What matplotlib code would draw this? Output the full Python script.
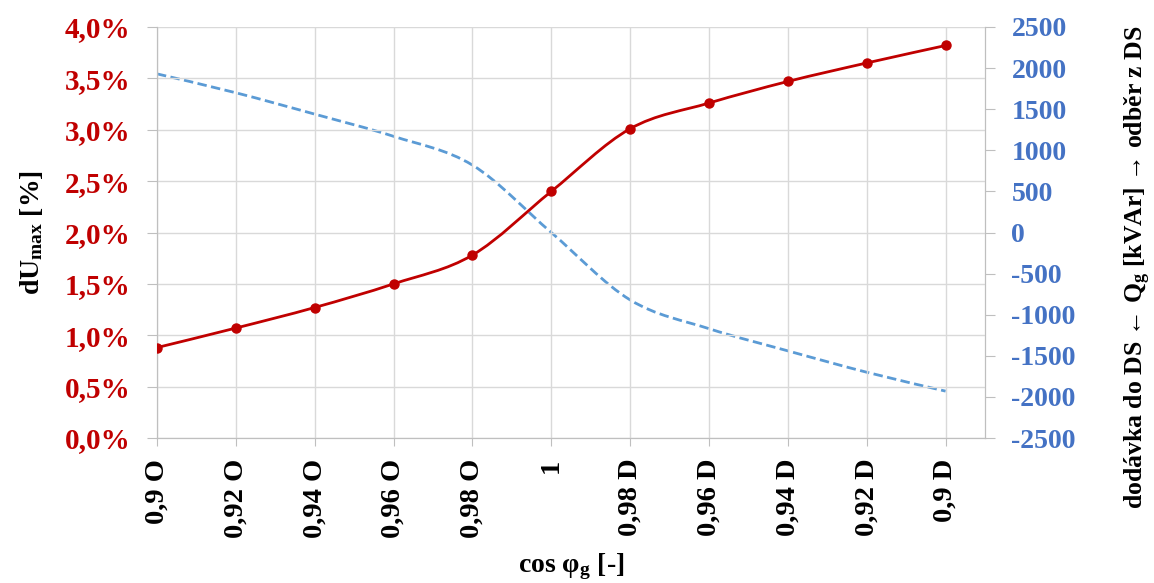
import numpy as np
import matplotlib
matplotlib.use('Agg')
import matplotlib.pyplot as plt
from matplotlib.path import Path
from matplotlib.patches import PathPatch
from matplotlib.ticker import FuncFormatter, MultipleLocator

# Data
categories = ['0,9 O', '0,92 O', '0,94 O', '0,96 O', '0,98 O', '1',
              '0,98 D', '0,96 D', '0,94 D', '0,92 D', '0,9 D']
dU_max = [0.88, 1.07, 1.27, 1.50, 1.78, 2.40, 3.01, 3.26, 3.47, 3.65, 3.82]   # [%]
Q_g = [1930, 1700, 1440, 1170, 820, 0, -820, -1170, -1440, -1700, -1930]     # [kVAr]

RED = '#C00000'
BLUE_LINE = '#5B9BD5'
BLUE_TXT = '#4472C4'
GRID = '#D9D9D9'
AXC = '#BFBFBF'

plt.rcParams['font.family'] = ['Liberation Serif', 'DejaVu Serif']
plt.rcParams['font.weight'] = 'bold'
plt.rcParams['axes.unicode_minus'] = False
plt.rcParams['mathtext.fontset'] = 'custom'
plt.rcParams['mathtext.bf'] = 'Liberation Serif:bold'
plt.rcParams['mathtext.rm'] = 'Liberation Serif:bold'
plt.rcParams['mathtext.it'] = 'Liberation Serif:bold'


# Excel-like smoothed line (Catmull-Rom -> cubic bezier)
def smooth_path(x, y):
    x = np.asarray(x, float)
    y = np.asarray(y, float)
    n = len(x)
    verts = [(x[0], y[0])]
    codes = [Path.MOVETO]
    for i in range(n - 1):
        x0, y0 = (x[i - 1], y[i - 1]) if i > 0 else (x[i], y[i])
        x3, y3 = (x[i + 2], y[i + 2]) if i + 2 < n else (x[i + 1], y[i + 1])
        c1 = (x[i] + (x[i + 1] - x0) / 6, y[i] + (y[i + 1] - y0) / 6)
        c2 = (x[i + 1] - (x3 - x[i]) / 6, y[i + 1] - (y3 - y[i]) / 6)
        verts += [c1, c2, (x[i + 1], y[i + 1])]
        codes += [Path.CURVE4] * 3
    return Path(verts, codes)


fig = plt.figure(figsize=(11.54, 5.83), dpi=100)
ax = fig.add_axes([0.136, 0.2487, 0.7176, 0.705])
ax2 = ax.twinx()

xs = np.arange(len(categories))

# Q_g on right axis (dashed blue)
ax2.add_patch(PathPatch(smooth_path(xs, Q_g), fill=False, edgecolor=BLUE_LINE,
                        lw=2.0, ls=(0, (3.4, 1.6)), zorder=2))
ax2.set_ylim(-2500, 2500)
ax2.yaxis.set_major_locator(MultipleLocator(500))

# dU_max on left axis (red with markers)
ax.add_patch(PathPatch(smooth_path(xs, dU_max), fill=False, edgecolor=RED,
                       lw=2.0, zorder=3))
ax.plot(xs, dU_max, ls='none', marker='o', ms=6.5, color=RED, zorder=4)
ax.set_zorder(ax2.get_zorder() + 1)
ax.patch.set_visible(False)

ax.set_xlim(0, 10.5)
ax.set_ylim(0, 4.0)
ax.yaxis.set_major_locator(MultipleLocator(0.5))
ax.yaxis.set_major_formatter(FuncFormatter(lambda v, p: ('%.1f%%' % v).replace('.', ',')))
ax.set_xticks(xs)
ax.set_xticklabels(categories, rotation=90, fontsize=20.5, fontweight='bold')

ax.grid(True, color=GRID, lw=1.0)
ax.set_axisbelow(True)

for a in (ax, ax2):
    for s in a.spines.values():
        s.set_color(AXC)
    a.spines['top'].set_visible(False)

ax.tick_params(axis='y', colors=AXC, labelcolor=RED, labelsize=21, length=7, pad=12)
ax.tick_params(axis='x', colors=AXC, labelcolor='black', length=6, pad=9)
ax2.tick_params(axis='y', colors=AXC, labelcolor=BLUE_TXT, labelsize=20, length=7, pad=12)
for lab in ax.get_yticklabels() + ax2.get_yticklabels():
    lab.set_fontweight('bold')

ax.set_ylabel(r'dU$_{\mathbf{max}}$ [%]', fontsize=20, fontweight='bold')
ax.yaxis.set_label_coords(-0.135, 0.5)
ax.set_xlabel(r'cos φ$_{\mathbf{g}}$ [-]', fontsize=20, fontweight='bold')
ax.xaxis.set_label_coords(0.5, -0.275)

# right axis title placed directly so it fits the figure
fig.text(0.986, 0.542, r'dodávka do DS ← Q$_{\mathbf{g}}$ [kVAr] → odběr z DS',
         rotation=90, ha='center', va='center', fontsize=18.5, fontweight='bold')

fig.savefig('out.png', dpi=100)
